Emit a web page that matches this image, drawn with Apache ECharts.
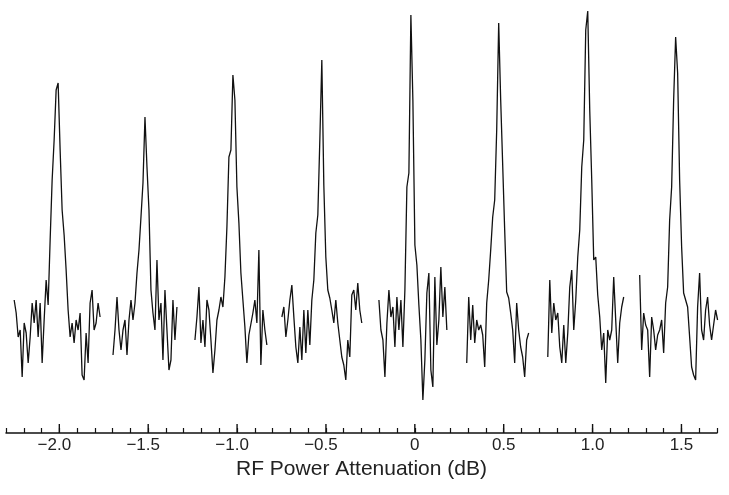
<!DOCTYPE html>
<html><head><meta charset="utf-8">
<script src="https://cdn.jsdelivr.net/npm/echarts@6/dist/echarts.min.js"></script>
<style>html,body{margin:0;padding:0;background:#fff}#c{width:729px;height:495px}</style>
</head><body><div id="c"></div>
<script>
// x axis range and ticks (dB)
const xMin = -2.3, xMax = 1.7, tickStep = 0.1;
const majorTicks = [-2.0, -1.5, -1.0, -0.5, 0, 0.5, 1.0, 1.5];
// start of each recorded trace (dB) and sample spacing
const segStart = [-2.254, -1.698, -1.237, -0.748, -0.202, 0.292, 0.748, 1.265];
const sampleStep = 0.01124;
// trace amplitudes (arbitrary units)
const seg1 = [133,120,96,103,56,110,100,70,96,130,110,133,96,130,70,113,153,128,193,253,293,343,350,283,223,198,163,123,96,110,90,113,103,120,58,53,100,70,130,143,103,110,130,116];
const seg2 = [78,103,136,103,83,103,113,78,113,133,113,130,160,183,216,250,316,266,223,143,120,103,173,113,130,73,143,103,63,73,133,93,126];
const seg3 = [93,116,146,90,113,86,133,123,93,60,83,113,123,136,126,156,206,276,283,358,333,246,210,160,133,106,70,98,100,120,133,110,183,68,123,103,88];
const seg4 = [116,126,96,113,133,148,116,86,70,106,73,123,80,123,88,133,153,200,218,293,373,248,176,143,135,123,110,133,110,93,76,68,53,93,76,138,143,123,150,123,110];
const seg5 = [133,103,93,56,110,143,116,126,86,136,103,133,86,143,246,260,418,333,188,168,128,93,33,73,140,160,63,46,156,88,113,166,116,146,103];
const seg6 = [70,136,93,128,90,113,103,108,98,66,130,153,183,216,233,303,410,333,268,203,141,135,120,103,70,130,103,86,76,56,93,100];
const seg7 = [76,153,100,130,113,120,86,70,108,70,100,146,163,103,133,176,203,266,293,403,422,323,253,173,176,138,116,83,100,50,103,93,103,156,113,70,110,126,136];
const seg8 = [158,83,120,108,103,56,116,103,83,98,103,113,80,130,146,213,246,333,396,360,253,186,140,138,126,96,66,58,53,126,160,103,93,123,136,108,93,108,123,113];
const segments = [seg1, seg2, seg3, seg4, seg5, seg6, seg7, seg8];

const font = 'Liberation Sans, Arial, Helvetica, sans-serif';
const series = segments.map((vals, k) => ({
  type: 'line',
  data: vals.map((v, i) => [segStart[k] + i * sampleStep, v]),
  showSymbol: false, symbol: 'none',
  lineStyle: { color: '#111', width: 1.3 },
  itemStyle: { color: '#111' },
  animation: false, silent: true
}));
series.push({
  type: 'custom',
  data: majorTicks.map(t => [t, 0]),
  renderItem: (params, api) => {
    const p = api.coord([api.value(0), 0]);
    return { type: 'line', shape: { x1: p[0], y1: p[1], x2: p[0], y2: p[1] - 9 },
      style: { stroke: '#111', lineWidth: 1.4 } };
  },
  animation: false, silent: true, clip: false, z: 5
});

const chart = echarts.init(document.getElementById('c'));
chart.setOption({
  backgroundColor: '#fff',
  animation: false,
  grid: { left: 6, right: 12, top: 0, bottom: 62, containLabel: false, outerBoundsMode: 'none' },
  xAxis: {
    type: 'value', min: xMin, max: xMax, interval: tickStep,
    axisLine: { onZero: false, lineStyle: { color: '#111', width: 1.5 } },
    axisTick: { inside: true, length: 5, lineStyle: { color: '#111', width: 1.2 } },
    splitLine: { show: false },
    axisLabel: {
      margin: 4, fontSize: 17, color: '#222', fontFamily: font,
      formatter: v => {
        const r = Math.round(v * 10);
        if (r % 5 !== 0) return '';
        if (r === 0) return '0';
        const num = Math.abs(r / 10).toFixed(1);
        return r < 0 ? '\u2212' + num + '{p|}' : num;
      },
      rich: { p: { width: 10, fontSize: 17 } }
    },
    name: 'RF Power Attenuation (dB)', nameLocation: 'middle', nameGap: 26,
    nameTextStyle: { fontSize: 21, color: '#222', fontFamily: font }
  },
  yAxis: { type: 'value', min: 0, max: 433, show: false },
  series: series
});
</script>
</body></html>
